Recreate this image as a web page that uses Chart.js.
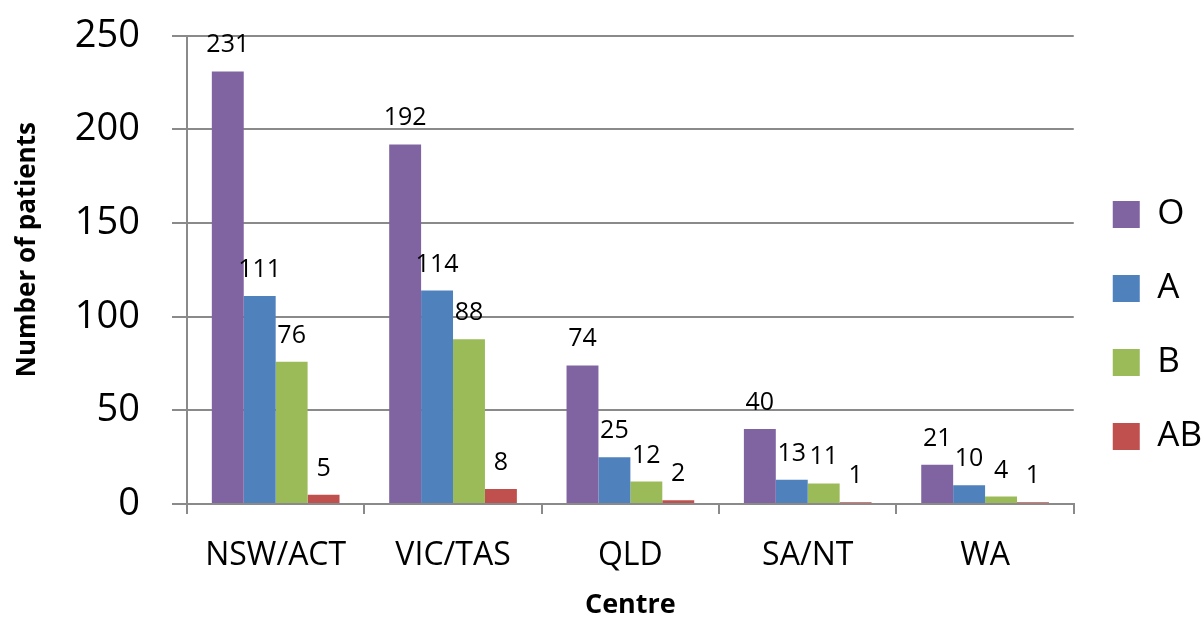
<!DOCTYPE html>
<html lang="en">
<head>
    <meta charset="UTF-8" />
    <title>Blood group by centre</title>
    <script src="https://cdn.jsdelivr.net/npm/chart.js"></script>
    <style>
        html, body { margin: 0; padding: 0; background: #fff; }
        #chart { display: block; }
    </style>
</head>
<body>
    <canvas id="chart" width="1204" height="619"></canvas>

    <script>
        // values
        const centres = ["NSW/ACT", "VIC/TAS", "QLD", "SA/NT", "WA"];
        const groupO = [231, 192, 74, 40, 21];
        const groupA = [111, 114, 25, 13, 10];
        const groupB = [76, 88, 12, 11, 4];
        const groupAB = [5, 8, 2, 1, 1];

        const FONT = "'Open Sans', 'DejaVu Sans', sans-serif";
        const AXIS_GREY = "#8a8a8a";

        // writes each bar's value just above it
        const valueLabels = {
            id: "valueLabels",
            afterDatasetsDraw(chart) {
                const ctx = chart.ctx;
                ctx.save();
                ctx.font = "25px " + FONT;
                ctx.fillStyle = "#000";
                ctx.textAlign = "center";
                ctx.textBaseline = "alphabetic";
                chart.data.datasets.forEach((ds, i) => {
                    chart.getDatasetMeta(i).data.forEach((bar, j) => {
                        ctx.fillText(String(ds.data[j]), bar.x, bar.y - 19);
                    });
                });
                ctx.restore();
            }
        };

        const ctx = document.getElementById("chart").getContext("2d");
        new Chart(ctx, {
            type: "bar",
            data: {
                labels: centres,
                datasets: [
                    { label: "O", data: groupO, backgroundColor: "#8064A2" },
                    { label: "A", data: groupA, backgroundColor: "#4F81BD" },
                    { label: "B", data: groupB, backgroundColor: "#9BBB59" },
                    { label: "AB", data: groupAB, backgroundColor: "#C0504D" }
                ]
            },
            options: {
                responsive: false,
                animation: false,
                categoryPercentage: 0.72,
                barPercentage: 1.0,
                layout: {
                    padding: { top: 32, right: -8, bottom: 0, left: 0 }
                },
                plugins: {
                    tooltip: { enabled: false },
                    legend: {
                        position: "right",
                        labels: {
                            boxWidth: 27,
                            boxHeight: 27,
                            padding: 39,
                            color: "#000",
                            font: { family: FONT, size: 35 }
                        }
                    }
                },
                scales: {
                    x: {
                        afterFit: (scale) => { scale.height = 115; },
                        grid: {
                            offset: true,
                            drawOnChartArea: false,
                            tickLength: 10,
                            color: AXIS_GREY,
                            lineWidth: 2
                        },
                        border: { color: AXIS_GREY, width: 2 },
                        ticks: {
                            color: "#000",
                            padding: 23,
                            font: { family: FONT, size: 32 }
                        },
                        title: {
                            display: true,
                            text: "Centre",
                            color: "#000",
                            padding: { top: 4, bottom: 0 },
                            font: { family: FONT, size: 27, weight: "bold", lineHeight: 1 }
                        }
                    },
                    y: {
                        min: 0,
                        max: 250,
                        afterFit: (scale) => { scale.width = 187; },
                        grid: {
                            tickLength: 15,
                            color: AXIS_GREY,
                            lineWidth: 2
                        },
                        border: { color: AXIS_GREY, width: 2 },
                        ticks: {
                            stepSize: 50,
                            color: "#000",
                            padding: 32,
                            font: { family: FONT, size: 38, lineHeight: 0.2 }
                        },
                        title: {
                            display: true,
                            // leading spaces lift the title a bit, like the original
                            text: "      Number of patients",
                            color: "#000",
                            padding: { top: 12, bottom: 0 },
                            font: { family: FONT, size: 26, weight: "bold" }
                        }
                    }
                }
            },
            plugins: [valueLabels]
        });
    </script>
</body>
</html>
